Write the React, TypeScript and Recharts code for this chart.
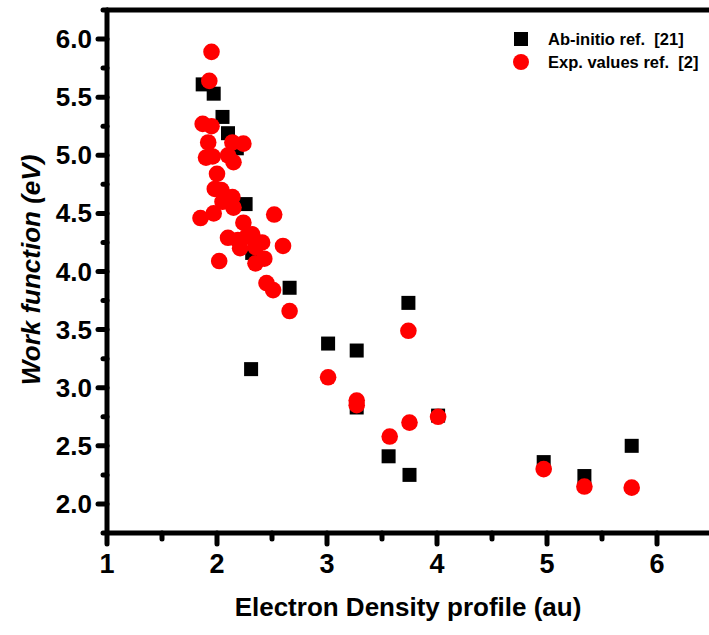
import React from 'react';
import { ScatterChart, Scatter, XAxis, YAxis, ReferenceLine } from 'recharts';

// Ab-initio ref. [21] (black squares)
const abInitioX = [1.87, 1.97, 2.05, 2.1, 2.18, 2.26, 2.32, 2.66, 2.31, 3.01, 3.27, 3.27, 3.74, 4.01, 3.56, 3.75, 4.97, 5.34, 5.77];
const abInitioY = [5.61, 5.53, 5.33, 5.19, 5.06, 4.58, 4.16, 3.86, 3.16, 3.38, 3.32, 2.83, 3.73, 2.76, 2.41, 2.25, 2.36, 2.24, 2.5];

// Exp. values ref. [2] (red circles)
const expX = [
  1.95, 1.93, 1.87, 1.95, 1.92, 1.9, 1.96, 2.14, 2.24, 2.1, 2.15, 2.0, 1.98, 2.04, 2.14, 2.05,
  2.15, 1.97, 1.85, 2.52, 2.24, 2.1, 2.19, 2.27, 2.32, 2.41, 2.21, 2.35, 2.6, 2.02, 2.35, 2.43,
  2.45, 2.51, 2.66, 3.74, 3.01, 3.27, 3.27, 4.01, 3.75, 3.57, 4.97, 5.34, 5.77,
];
const expY = [
  5.89, 5.64, 5.27, 5.25, 5.11, 4.98, 4.99, 5.11, 5.1, 5.0, 4.94, 4.84, 4.71, 4.7, 4.64, 4.6,
  4.55, 4.5, 4.46, 4.49, 4.42, 4.29, 4.27, 4.3, 4.32, 4.25, 4.2, 4.21, 4.22, 4.09, 4.07, 4.11,
  3.9, 3.84, 3.66, 3.49, 3.09, 2.89, 2.85, 2.75, 2.7, 2.58, 2.3, 2.15, 2.14,
];

const xTicks = [1, 1.5, 2, 2.5, 3, 3.5, 4, 4.5, 5, 5.5, 6, 6.5];
const yTicks = [1.75, 2, 2.25, 2.5, 2.75, 3, 3.25, 3.5, 3.75, 4, 4.25, 4.5, 4.75, 5, 5.25, 5.5, 5.75, 6, 6.25];

const abInitioData = abInitioX.map((x, i) => ({ x, y: abInitioY[i] }));
const expData = expX.map((x, i) => ({ x, y: expY[i] }));

const FONT = '"Liberation Sans", Arial, sans-serif';
const LINE_W = 5;

const isMajor = (v: number, step: number) => Math.abs(v / step - Math.round(v / step)) < 1e-6;

const XTick = ({ x, y, payload }: any) => {
  const major = isMajor(payload.value, 1);
  return (
    <g>
      <line x1={x} y1={y} x2={x} y2={y + (major ? 11 : 6)} stroke="#000" strokeWidth={LINE_W} strokeLinecap="round" />
      {major && (
        <text x={x} y={y + 40} textAnchor="middle" fontFamily={FONT} fontWeight="bold" fontSize={27} fill="#000">
          {payload.value}
        </text>
      )}
    </g>
  );
};

const YTick = ({ x, y, payload }: any) => {
  const major = isMajor(payload.value, 0.5);
  return (
    <g>
      <line x1={x} y1={y} x2={x - (major ? 9 : 4)} y2={y} stroke="#000" strokeWidth={LINE_W} strokeLinecap="round" />
      {major && (
        <text x={x - 15} y={y + 9} textAnchor="end" fontFamily={FONT} fontWeight="bold" fontSize={26} fill="#000">
          {payload.value.toFixed(1)}
        </text>
      )}
    </g>
  );
};

const YTitle = () => (
  <text
    x={40}
    y={270}
    transform="rotate(-90, 40, 270)"
    textAnchor="middle"
    fontFamily={FONT}
    fontWeight="bold"
    fontStyle="italic"
    fontSize={26}
    fill="#000"
  >
    Work function (eV)
  </text>
);

const XTitle = () => (
  <text x={408} y={616} textAnchor="middle" fontFamily={FONT} fontWeight="bold" fontSize={26} fill="#000">
    Electron Density profile (au)
  </text>
);

const Square = ({ cx, cy }: any) => <rect x={cx - 7} y={cy - 7} width={14} height={14} fill="#000" />;
const Dot = ({ cx, cy }: any) => <circle cx={cx} cy={cy} r={8.3} fill="#ff0000" />;

const axisLine = { stroke: '#000', strokeWidth: LINE_W, strokeLinecap: 'round' as const };

const legendText: React.CSSProperties = {
  position: 'absolute',
  left: 548,
  fontFamily: FONT,
  fontWeight: 'bold',
  fontSize: 16.5,
  whiteSpace: 'pre',
  lineHeight: '18px',
  color: '#000',
};

export default function App() {
  return (
    <div style={{ position: 'absolute', left: 0, top: 0, width: 709, height: 635, overflow: 'hidden', background: '#fff' }}>
      <ScatterChart width={712} height={635} margin={{ top: 10, right: 0, bottom: 42, left: 0 }}>
        <XAxis
          type="number"
          dataKey="x"
          domain={[1, 6.5]}
          ticks={xTicks}
          interval={0}
          height={60}
          tickSize={0}
          tickMargin={0}
          tickLine={false}
          axisLine={axisLine}
          tick={<XTick />}
          label={<XTitle />}
          allowDataOverflow
        />
        <YAxis
          type="number"
          dataKey="y"
          domain={[1.75, 6.25]}
          ticks={yTicks}
          interval={0}
          width={107}
          tickSize={0}
          tickMargin={0}
          tickLine={false}
          axisLine={axisLine}
          tick={<YTick />}
          label={<YTitle />}
          allowDataOverflow
        />
        <ReferenceLine y={6.25} stroke="#000" strokeWidth={LINE_W} />
        <Scatter data={abInitioData} shape={<Square />} isAnimationActive={false} />
        <Scatter data={expData} shape={<Dot />} isAnimationActive={false} />
      </ScatterChart>
      <div style={{ position: 'absolute', left: 514, top: 32, width: 14, height: 14, background: '#000' }} />
      <div style={{ ...legendText, top: 30 }}>Ab-initio ref.  [21]</div>
      <div style={{ position: 'absolute', left: 513, top: 54, width: 16, height: 16, borderRadius: '50%', background: '#ff0000' }} />
      <div style={{ ...legendText, top: 53 }}>Exp. values ref.  [2]</div>
    </div>
  );
}
